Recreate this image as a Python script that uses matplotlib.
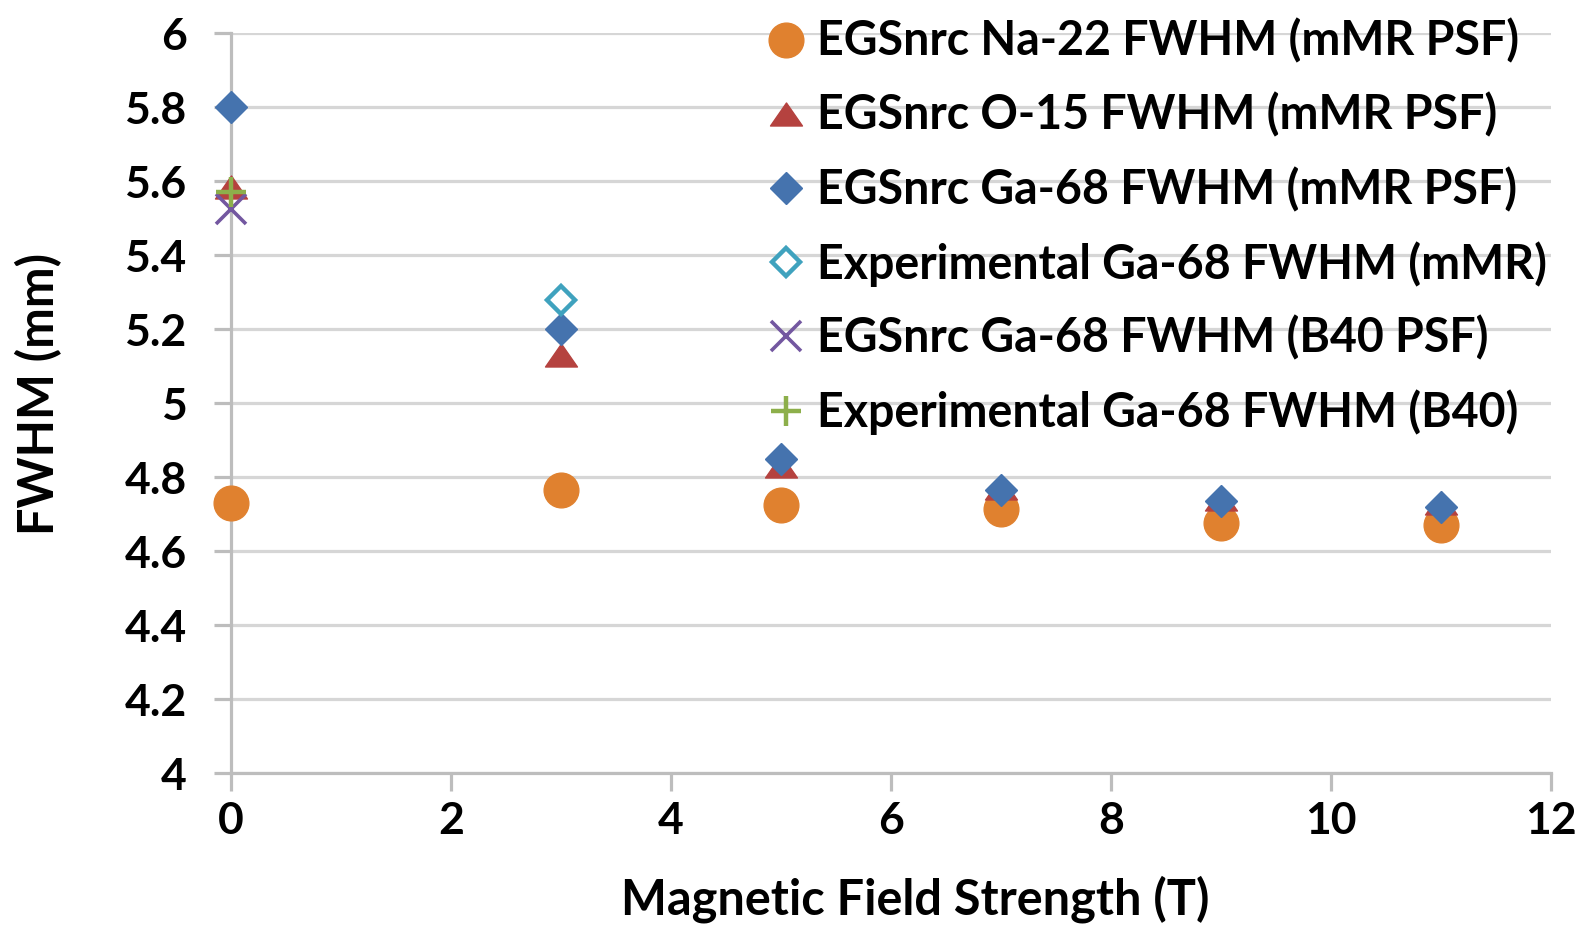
import matplotlib
matplotlib.use("Agg")
import matplotlib.pyplot as plt
from matplotlib.path import Path

plt.rcParams['font.family'] = ['Lato', 'DejaVu Sans']
plt.rcParams['font.weight'] = 'bold'

# Magnetic field strength (T)
field = [0, 3, 5, 7, 9, 11]

# FWHM values (mm)
na22_mmr_psf = [4.73, 4.765, 4.725, 4.715, 4.675, 4.67]
o15_mmr_psf = [5.585, 5.13, 4.83, 4.77, 4.74, 4.73]
ga68_mmr_psf = [5.80, 5.20, 4.85, 4.765, 4.735, 4.72]

exp_mmr_field = [3]
exp_ga68_mmr = [5.28]

b40_field = [0]
ga68_b40_psf = [5.525]
exp_ga68_b40 = [5.57]

labels = [
    "EGSnrc Na-22 FWHM (mMR PSF)",
    "EGSnrc O-15 FWHM (mMR PSF)",
    "EGSnrc Ga-68 FWHM (mMR PSF)",
    "Experimental Ga-68 FWHM (mMR)",
    "EGSnrc Ga-68 FWHM (B40 PSF)",
    "Experimental Ga-68 FWHM (B40)",
]

x_ticks = [0, 2, 4, 6, 8, 10, 12]
y_ticks = [4, 4.2, 4.4, 4.6, 4.8, 5, 5.2, 5.4, 5.6, 5.8, 6]
y_tick_labels = ["4", "4.2", "4.4", "4.6", "4.8", "5", "5.2", "5.4", "5.6", "5.8", "6"]

c_orange = "#E0812F"
c_red = "#B5423F"
c_blue = "#4573AE"
c_cyan = "#3FA2BE"
c_purple = "#7357A0"
c_green = "#8DAF4B"

# flattened triangle similar to spreadsheet-style markers
tri = Path([(0, 0.72), (-1, -0.72), (1, -0.72), (0, 0.72)],
           [Path.MOVETO, Path.LINETO, Path.LINETO, Path.CLOSEPOLY])

fig = plt.figure(figsize=(15.83, 9.27), dpi=100)
ax = fig.add_axes([0.146, 0.166, 0.834, 0.798])

common = dict(linestyle="none", clip_on=False)
ax.plot(field, na22_mmr_psf, marker="o", ms=25, color=c_orange, mec=c_orange,
        label=labels[0], zorder=3, **common)
ax.plot(field, o15_mmr_psf, marker=tri, ms=23, color=c_red, mec=c_red,
        label=labels[1], zorder=4, **common)
ax.plot(field, ga68_mmr_psf, marker="D", ms=16, color=c_blue, mec=c_blue,
        label=labels[2], zorder=5, **common)
ax.plot(exp_mmr_field, exp_ga68_mmr, marker="D", ms=14.5, mfc="white", mec=c_cyan,
        mew=3.2, label=labels[3], zorder=6, **common)
ax.plot(b40_field, ga68_b40_psf, marker="x", ms=22, color=c_purple, mew=2.6,
        label=labels[4], zorder=7, **common)
ax.plot(b40_field, exp_ga68_b40, marker="+", ms=22, color=c_green, mew=3.2,
        label=labels[5], zorder=8, **common)

ax.set_xlim(0, 12)
ax.set_ylim(4, 6)
ax.set_xticks(x_ticks)
ax.set_yticks(y_ticks)
ax.set_yticklabels(y_tick_labels)

ax.grid(axis="y", color="#d6d6d6", linewidth=2.3, zorder=0)
ax.set_axisbelow(True)
for side in ("top", "right"):
    ax.spines[side].set_visible(False)
for side in ("left", "bottom"):
    ax.spines[side].set_color("#bdbdbd")
    ax.spines[side].set_linewidth(2.3)

ax.tick_params(axis="both", colors="#bdbdbd", width=2.3, labelcolor="black",
               labelsize=32)
ax.tick_params(axis="y", length=12, pad=20)
ax.tick_params(axis="x", length=13, pad=7)
for lab in ax.get_xticklabels() + ax.get_yticklabels():
    lab.set_fontweight("bold")

ax.set_xlabel("Magnetic Field Strength (T)", fontsize=35, fontweight="bold")
ax.set_ylabel("FWHM (mm)", fontsize=35, fontweight="bold")
ax.xaxis.label.set_va("center")
ax.yaxis.label.set_va("center")
ax.xaxis.set_label_coords(0.5185, -0.170)
ax.yaxis.set_label_coords(-0.1458, 0.512)

leg = ax.legend(loc="upper left", bbox_to_anchor=(0.4847, 0.980),
                bbox_transform=fig.transFigure, frameon=False,
                prop={"weight": "bold", "size": 33.5},
                borderpad=0, borderaxespad=0, handlelength=0.8,
                handletextpad=0.26, labelspacing=0.62, markerscale=1.0)
leg.set_zorder(10)

fig.savefig("out.png", dpi=100)
